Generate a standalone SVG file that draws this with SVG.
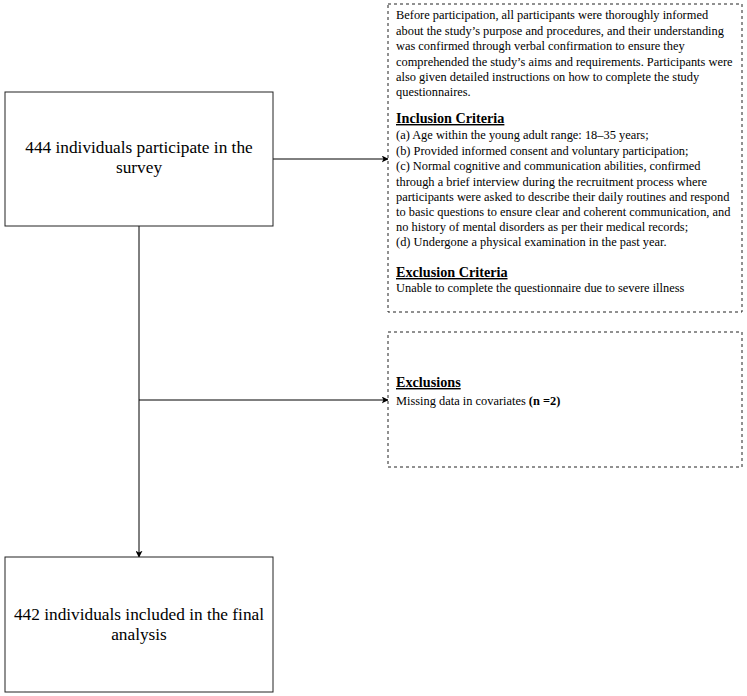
<svg xmlns="http://www.w3.org/2000/svg" width="747" height="696" viewBox="0 0 747 696">
<style>
.box{fill:#fff;stroke:#222;stroke-width:1}
.dbox{fill:#fff;stroke:#222;stroke-width:1;stroke-dasharray:3 3}
.main{font-family:"Liberation Serif","Times New Roman",serif;font-size:17.3px;fill:#000;text-anchor:middle}
.t{font-family:"Liberation Serif","Times New Roman",serif;font-size:12.4px;fill:#000}
.h{font-family:"Liberation Serif","Times New Roman",serif;font-size:14.2px;font-weight:bold;text-decoration:underline;fill:#000}
.edge{fill:none;stroke:#000;stroke-width:1}
</style>
<defs>
<marker id="arr" viewBox="0 0 10 10" refX="9" refY="5" markerWidth="7" markerHeight="7" markerUnits="userSpaceOnUse" orient="auto">
<path d="M0,0 L10,5 L0,10 L2.5,5 Z" fill="#000"/>
</marker>
</defs>
<g id="connectors">
<path class="edge" d="M273,159 L388,159" marker-end="url(#arr)"/>
<path class="edge" d="M139,226 L139,557" stroke="#555" marker-end="url(#arr)"/>
<path class="edge" d="M139,400 L388,400" marker-end="url(#arr)"/>
</g>
<g id="n1">
<rect class="box" x="5" y="92" width="268" height="134"/>
<text class="main" x="139" y="153">444 individuals participate in the</text>
<text class="main" x="139" y="173">survey</text>
</g>
<g id="n2">
<rect class="box" x="5" y="557" width="268" height="135"/>
<text class="main" x="139" y="620">442 individuals included in the final</text>
<text class="main" x="139" y="640">analysis</text>
</g>
<g id="n3">
<rect class="dbox" x="388" y="4" width="354" height="308"/>
<text class="t" x="396" y="19">Before participation, all participants were thoroughly informed</text>
<text class="t" x="396" y="35">about the study’s purpose and procedures, and their understanding</text>
<text class="t" x="396" y="50">was confirmed through verbal confirmation to ensure they</text>
<text class="t" x="396" y="66">comprehended the study’s aims and requirements. Participants were</text>
<text class="t" x="396" y="81">also given detailed instructions on how to complete the study</text>
<text class="t" x="396" y="96">questionnaires.</text>
<text class="h" x="396" y="123">Inclusion Criteria</text>
<text class="t" x="396" y="139">(a) Age within the young adult range: 18–35 years;</text>
<text class="t" x="396" y="155">(b) Provided informed consent and voluntary participation;</text>
<text class="t" x="396" y="170">(c) Normal cognitive and communication abilities, confirmed</text>
<text class="t" x="396" y="186">through a brief interview during the recruitment process where</text>
<text class="t" x="396" y="201">participants were asked to describe their daily routines and respond</text>
<text class="t" x="396" y="216">to basic questions to ensure clear and coherent communication, and</text>
<text class="t" x="396" y="231">no history of mental disorders as per their medical records;</text>
<text class="t" x="396" y="246">(d) Undergone a physical examination in the past year.</text>
<text class="h" x="396" y="277">Exclusion Criteria</text>
<text class="t" x="396" y="292">Unable to complete the questionnaire due to severe illness</text>
</g>
<g id="n4">
<rect class="dbox" x="388" y="332" width="354" height="135"/>
<text class="h" x="396" y="387">Exclusions</text>
<text class="t" x="396" y="405">Missing data in covariates <tspan font-weight="bold">(n =2)</tspan></text>
</g>
</svg>
